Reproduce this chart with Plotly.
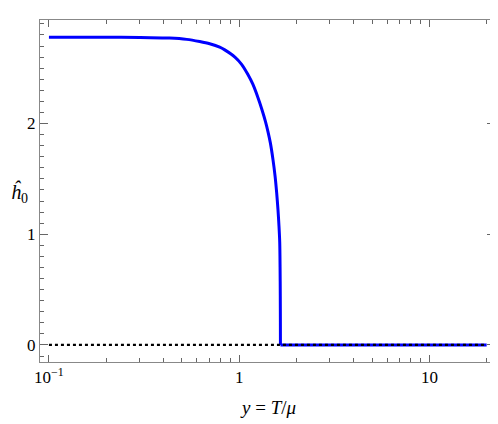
import plotly.graph_objects as go

# ĥ0 against y = T/mu
y_vals = [0.1, 0.2, 0.3, 0.43, 0.53, 0.62, 0.70, 0.79, 0.84, 0.95, 1.03, 1.11,
          1.18, 1.256, 1.318, 1.374, 1.418, 1.459, 1.506, 1.545, 1.575, 1.60,
          1.62, 1.634, 1.641, 1.645, 1.647, 1.648]
h_vals = [2.78, 2.78, 2.778, 2.772, 2.76, 2.74, 2.72, 2.69, 2.665, 2.60,
          2.535, 2.445, 2.355, 2.233, 2.125, 2.02, 1.925, 1.825, 1.674, 1.523,
          1.373, 1.222, 1.07, 0.93, 0.70, 0.45, 0.2, 0.0]
flat_x = [1.648, 20]
flat_h = [0, 0]
trivial_x = [0.1, 20]
trivial_h = [0, 0]

x_major = [0.1, 1, 10]
x_major_text = ["10<sup>\u22121</sup>", "1", "10"]
x_minor = [0.2, 0.3, 0.4, 0.5, 0.6, 0.7, 0.8, 0.9,
           2, 3, 4, 5, 6, 7, 8, 9, 20]
y_major = [0, 1, 2]

font_name = "Liberation Serif"
tick_col = "#666666"

fig = go.Figure()
fig.add_trace(go.Scatter(x=y_vals, y=h_vals, mode="lines",
                         line=dict(color="#0000ff", width=3, shape="spline",
                                   smoothing=0.8)))
fig.add_trace(go.Scatter(x=flat_x, y=flat_h, mode="lines",
                         line=dict(color="#0000ff", width=3)))
fig.add_trace(go.Scatter(x=trivial_x, y=trivial_h, mode="lines",
                         line=dict(color="black", width=2.2, dash="dot")))

# the page puts the figure 8px in from the top-left corner
fig.update_layout(
    width=490, height=416,
    margin=dict(l=32, r=3, t=12, b=62),
    plot_bgcolor="white", paper_bgcolor="white",
    showlegend=False,
    font=dict(family=font_name, size=16, color="black"),
)
fig.update_xaxes(
    type="log", range=[-1.047, 1.345],
    tickmode="array", tickvals=x_major, ticktext=x_major_text,
    tickfont=dict(family=font_name, size=17),
    ticks="inside", ticklen=7, tickcolor=tick_col, tickwidth=1,
    minor=dict(tickmode="array", tickvals=x_minor, ticks="inside",
               ticklen=4, tickcolor=tick_col, tickwidth=1, showgrid=False),
    showline=True, linecolor="#888888", linewidth=1, mirror="ticks",
    showgrid=False, zeroline=False,
)
fig.update_yaxes(
    range=[-0.154, 2.935],
    tickmode="array", tickvals=y_major,
    tickfont=dict(family=font_name, size=17),
    ticks="inside", ticklen=8, tickcolor=tick_col, tickwidth=1,
    minor=dict(dtick=0.1, tick0=0, ticks="inside", ticklen=4,
               tickcolor=tick_col, tickwidth=1, showgrid=False),
    showline=True, linecolor="#888888", linewidth=1, mirror="ticks",
    showgrid=False, zeroline=False,
)
fig.add_annotation(text="<i>\u0125</i><sub>0</sub>", xref="paper", yref="paper",
                   x=-0.044, y=0.494, showarrow=False,
                   font=dict(family=font_name, size=20),
                   xanchor="center", yanchor="middle")
fig.add_annotation(text="<i>y</i> = <i>T</i>/<i>\u03bc</i>",
                   xref="paper", yref="paper", x=0.5, y=-0.1345,
                   showarrow=False, font=dict(family=font_name, size=19),
                   xanchor="center", yanchor="middle")

fig.write_html("out.html")
